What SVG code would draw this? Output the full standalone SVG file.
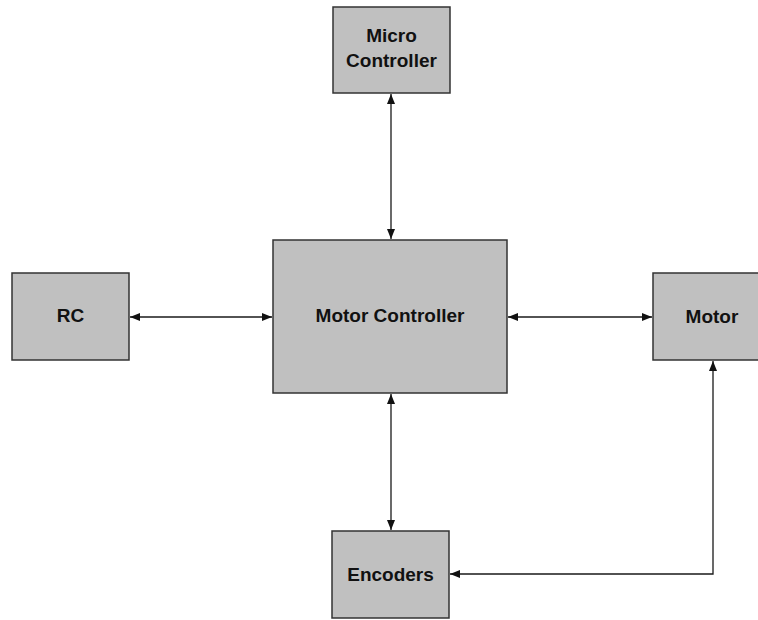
<svg xmlns="http://www.w3.org/2000/svg" width="758" height="620" viewBox="0 0 758 620">
  <style>
    .box { fill: #c0c0c0; stroke: #333333; stroke-width: 1.5; }
    .lbl { font-family: "Liberation Sans", Arial, sans-serif; font-weight: bold; font-size: 19px; fill: #111111; text-anchor: middle; }
    .wire { fill: none; stroke: #1a1a1a; stroke-width: 1.3; }
  </style>
  <defs>
    <marker id="arrowEnd" viewBox="0 0 10 8" refX="10" refY="4" markerWidth="10" markerHeight="8" markerUnits="userSpaceOnUse" orient="auto">
      <path d="M0,0 L10,4 L0,8 Z" fill="#111111"/>
    </marker>
    <marker id="arrowStart" viewBox="0 0 10 8" refX="0" refY="4" markerWidth="10" markerHeight="8" markerUnits="userSpaceOnUse" orient="auto">
      <path d="M10,0 L0,4 L10,8 Z" fill="#111111"/>
    </marker>
  </defs>

  <rect width="758" height="620" fill="#ffffff"/>

  <g id="connectors">
    <line class="wire" x1="391" y1="94" x2="391" y2="239" marker-start="url(#arrowStart)" marker-end="url(#arrowEnd)"/>
    <line class="wire" x1="130" y1="317" x2="272" y2="317" marker-start="url(#arrowStart)" marker-end="url(#arrowEnd)"/>
    <line class="wire" x1="508" y1="317" x2="652" y2="317" marker-start="url(#arrowStart)" marker-end="url(#arrowEnd)"/>
    <line class="wire" x1="391" y1="394" x2="391" y2="530" marker-start="url(#arrowStart)" marker-end="url(#arrowEnd)"/>
    <polyline class="wire" points="713,361 713,574 450,574" marker-start="url(#arrowStart)" marker-end="url(#arrowEnd)"/>
  </g>

  <g id="micro-controller">
    <rect class="box" x="333" y="7" width="117" height="86"/>
    <text class="lbl" x="391.5" y="42">Micro</text>
    <text class="lbl" x="391.5" y="67">Controller</text>
  </g>

  <g id="rc">
    <rect class="box" x="12" y="273" width="117" height="87"/>
    <text class="lbl" x="70.5" y="322">RC</text>
  </g>

  <g id="motor-controller">
    <rect class="box" x="273" y="240" width="234" height="153"/>
    <text class="lbl" x="390" y="322">Motor Controller</text>
  </g>

  <g id="motor">
    <rect class="box" x="653" y="273" width="117" height="87"/>
    <text class="lbl" x="712" y="323">Motor</text>
  </g>

  <g id="encoders">
    <rect class="box" x="332" y="531" width="117" height="87"/>
    <text class="lbl" x="390.5" y="581">Encoders</text>
  </g>
</svg>
